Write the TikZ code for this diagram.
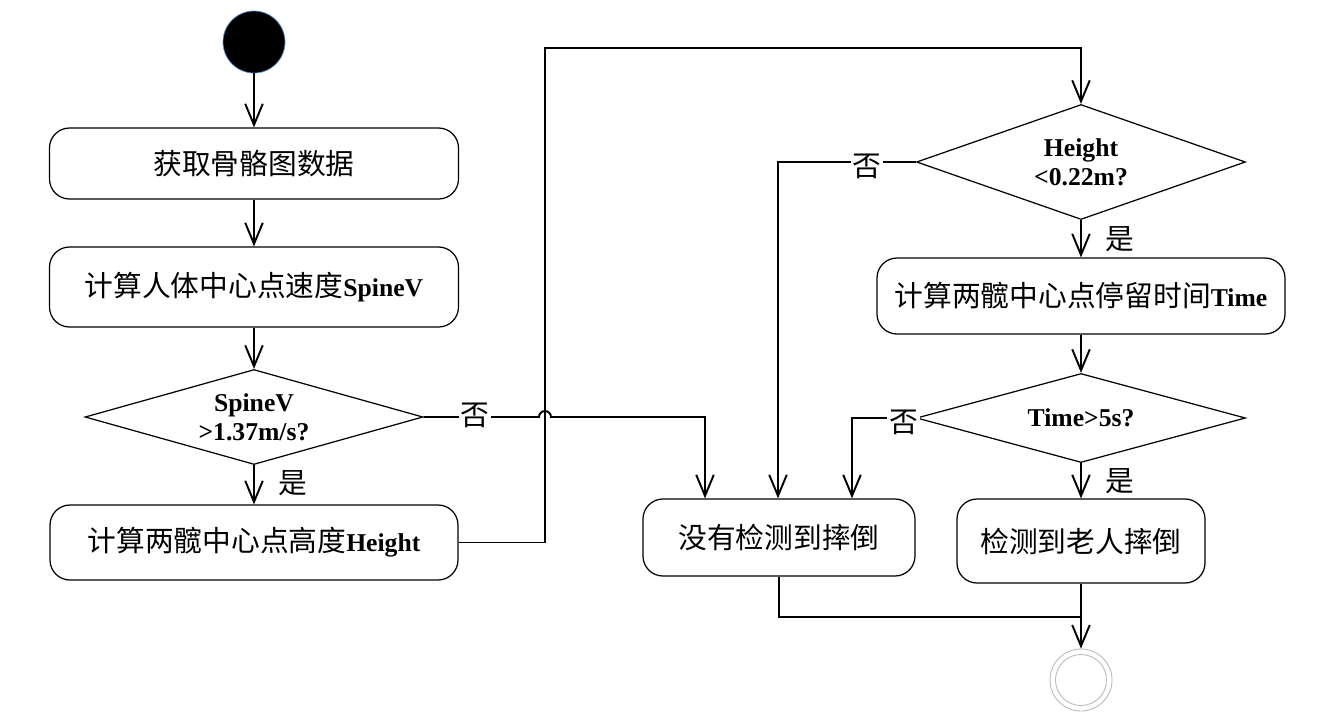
\documentclass[tikz,border=0pt]{standalone}
\usepackage{fontspec}
\setmainfont{Liberation Serif}
\newfontfamily\cjk{Noto Sans CJK SC}[Scale=1.12]
\newcommand{\zh}[1]{{\cjk #1}}
\usetikzlibrary{shapes.geometric,arrows.meta}

\begin{document}
\begin{tikzpicture}[>={Straight Barb[length=12pt,width=10pt]},
  every node/.style={font=\fontsize{14.6}{17}\selectfont},
  act/.style={draw,line width=0.7pt,rounded corners=0.4cm,align=center,inner sep=0pt},
  cond/.style={draw,line width=0.7pt,diamond,aspect=3.5,inner sep=0pt,align=center,font=\fontsize{14.6}{16.5}\selectfont\bfseries},
  flow/.style={line width=1.1pt},
  tag/.style={fill=white,inner sep=1pt}]
  \useasboundingbox (0,0) rectangle (26.6,-14.48);
  % left column
  \node[circle,fill=black,draw={rgb,255:red,80;green,140;blue,200},line width=0.4pt,minimum size=1.24cm,inner sep=0pt] (start) at (5.08,-0.84) {};
  \node[act,minimum width=8.18cm,minimum height=1.42cm] (skel) at (5.08,-3.27) {\zh{获取骨骼图数据}};
  \node[act,minimum width=8.18cm,minimum height=1.6cm] (speed) at (5.08,-5.74) {\zh{计算人体中心点速度}\textbf{SpineV}};
  \node[cond,minimum width=6.76cm,minimum height=1.9cm] (vchk) at (5.08,-8.34) {SpineV\\>1.37m/s?};
  \node[act,minimum width=8.16cm,minimum height=1.5cm] (height) at (5.08,-10.85) {\zh{计算两髋中心点高度}\textbf{Height}};
  % right column
  \node[cond,minimum width=6.58cm,minimum height=2.3cm] (hchk) at (21.62,-3.24) {Height\\<0.22m?};
  \node[act,minimum width=8.16cm,minimum height=1.52cm] (stay) at (21.62,-5.92) {\zh{计算两髋中心点停留时间}\textbf{Time}};
  \node[cond,minimum width=6.58cm,minimum height=1.78cm] (tchk) at (21.62,-8.36) {Time>5s?};
  \node[act,minimum width=5.44cm,minimum height=1.54cm] (nofall) at (15.58,-10.75) {\zh{没有检测到摔倒}};
  \node[act,minimum width=4.96cm,minimum height=1.68cm] (fall) at (21.62,-10.82) {\zh{检测到老人摔倒}};
  \node[circle,draw=gray!55,line width=0.5pt,minimum size=1.24cm,inner sep=0pt] (stop) at (21.62,-13.6) {};
  \node[circle,draw=gray!55,line width=0.5pt,minimum size=1.02cm,inner sep=0pt] (stopin) at (stop) {};
  % connectors
  \draw[flow,->] (start) -- (skel);
  \draw[flow,->] (skel) -- (speed);
  \draw[flow,->] (speed) -- (vchk);
  \draw[flow,->] (vchk) -- (height) node[pos=0.45,right=0.35cm] (yes1) {\zh{是}};
  \coordinate (up) at (10.9,-0.96);
  \draw[flow,->] (height.east) -| (up) -| (hchk.north);
  \coordinate (noA) at (14.1,-8.34);
  \draw[flow,->] (vchk.east) -- (10.78,-8.34) arc[start angle=180,end angle=0,radius=0.12] -- (noA) -- (noA |- nofall.north);
  \node[tag] (no1) at (9.5,-8.3) {\zh{否}};
  \coordinate (noB) at (15.56,-3.24);
  \draw[flow,->] (hchk.west) -- (noB) -- (noB |- nofall.north);
  \node[tag] (no2) at (17.34,-3.33) {\zh{否}};
  \draw[flow,->] (hchk) -- (stay) node[midway,right=0.35cm] (yes2) {\zh{是}};
  \draw[flow,->] (stay) -- (tchk);
  \coordinate (noC) at (17.04,-8.36);
  \draw[flow,->] (tchk.west) -- (noC) -- (noC |- nofall.north);
  \node[tag] (no3) at (18.07,-8.45) {\zh{否}};
  \draw[flow,->] (tchk) -- (fall) node[midway,right=0.35cm] (yes3) {\zh{是}};
  \draw[flow,->] (fall) -- (stop);
  \coordinate (join) at (21.62,-12.34);
  \draw[flow] (nofall.south) |- (join);
\end{tikzpicture}
\end{document}
